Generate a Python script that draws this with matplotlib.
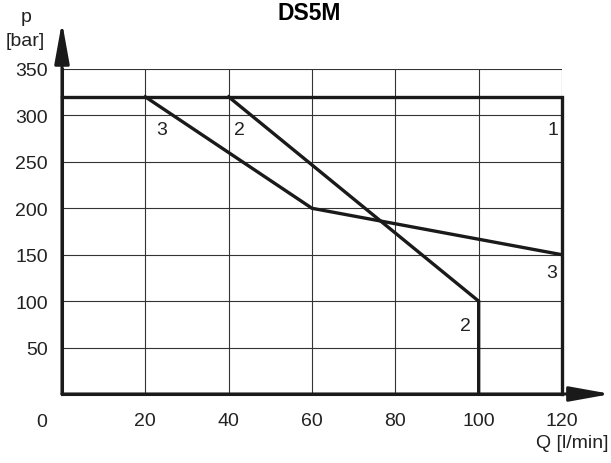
import matplotlib
matplotlib.use('Agg')
import matplotlib.pyplot as plt

plt.rcParams['font.family'] = ['Liberation Sans', 'DejaVu Sans']

# curves: Q [l/min] vs p [bar]
q1 = [0, 120, 120]
p1 = [320, 320, 0]
q2 = [40, 100, 100]
p2 = [320, 100, 0]
q3 = [20, 60, 120]
p3 = [320, 200, 150]

xticks = [20, 40, 60, 80, 100, 120]
yticks = [50, 100, 150, 200, 250, 300, 350]

# curve number labels (x, y, text)
labels = [(24, 285, '3'), (42.5, 285, '2'), (117.8, 285, '1'),
          (117.5, 131, '3'), (96.8, 74, '2')]

fs = 14

fig = plt.figure(figsize=(6.11, 4.64), dpi=100)
ax = fig.add_axes([62/611, 69/464, 500/611, 325/464])

ax.set_xlim(0, 120)
ax.set_ylim(0, 350)
ax.set_xticks(xticks)
ax.set_yticks(yticks)
ax.grid(True, color='#333333', linewidth=0.8)
ax.tick_params(length=0, labelsize=fs, colors='#222222')
ax.tick_params(axis='x', pad=13)
ax.tick_params(axis='y', pad=10)
for s in ['top', 'right']:
    ax.spines[s].set_visible(False)
for s in ['left', 'bottom']:
    ax.spines[s].set_linewidth(2.2)
    ax.spines[s].set_color('#1a1a1a')

for q, p in [(q1, p1), (q2, p2), (q3, p3)]:
    ax.plot(q, p, color='#1a1a1a', linewidth=2.4, solid_joinstyle='miter',
            clip_on=False, zorder=3)

for x, y, t in labels:
    ax.text(x, y, t, fontsize=fs, color='#222222', ha='center', va='center')

# axis arrows
arrow = dict(arrowstyle='-|>,head_length=2.5,head_width=0.45',
             mutation_scale=10, color='#1a1a1a', lw=2.2, shrinkA=0, shrinkB=0)
ax.annotate('', xy=(1.098, 0), xytext=(0, 0), xycoords='axes fraction',
            arrowprops=arrow, annotation_clip=False)
ax.annotate('', xy=(0, 1.145), xytext=(0, 0), xycoords='axes fraction',
            arrowprops=arrow, annotation_clip=False)

fig.text(42/611, 1 - 423/464, '0', fontsize=fs, color='#222222',
         ha='center', va='center')
fig.text(309/611, 1 - 14/464, 'DS5M', fontsize=16.5, fontweight='bold',
         ha='center', va='center')
fig.text(26/611, 1 - 17/464, 'p', fontsize=fs, color='#222222',
         ha='center', va='center')
fig.text(25/611, 1 - 41/464, '[bar]', fontsize=fs, color='#222222',
         ha='center', va='center')
fig.text(608/611, 1 - 444/464, 'Q [l/min]', fontsize=fs, color='#222222',
         ha='right', va='center')

fig.savefig('out.png', dpi=100)
